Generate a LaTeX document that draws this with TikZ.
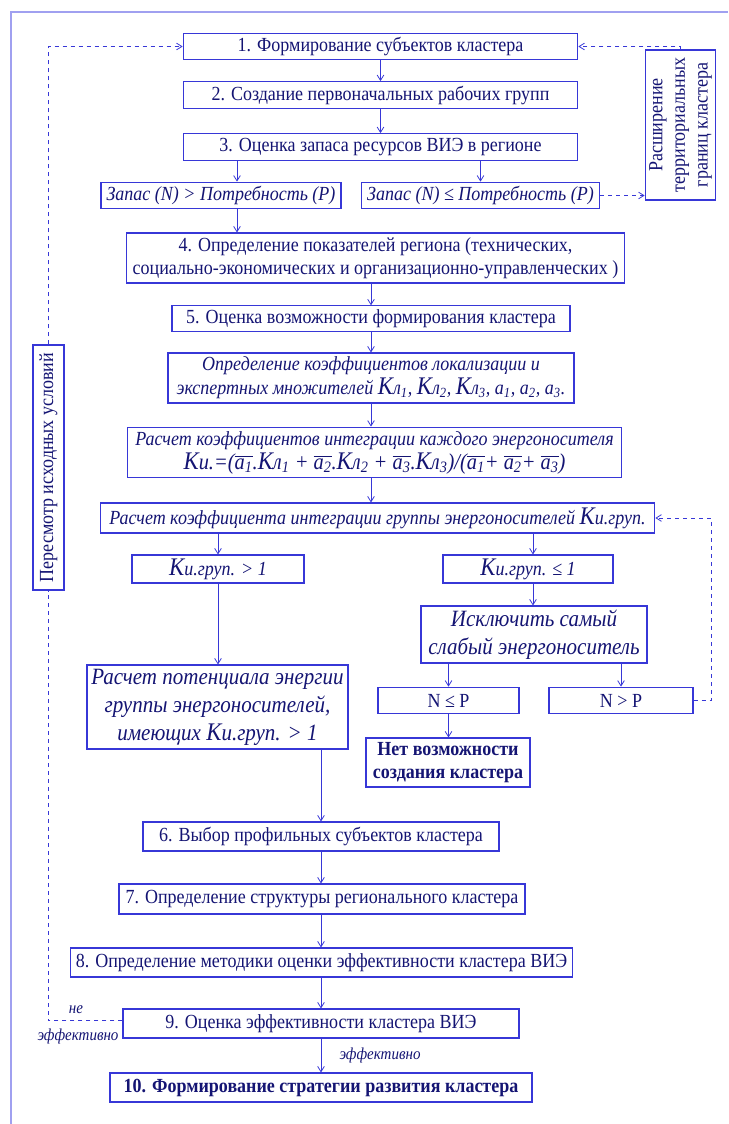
\documentclass[tikz,border=0pt]{standalone}
\usepackage{fontspec}
\setmainfont{Liberation Serif}[FakeStretch=0.9]
\usetikzlibrary{arrows.meta}
\definecolor{ramka}{RGB}{55,55,215}
\definecolor{tekst}{RGB}{20,20,115}
\definecolor{pole}{RGB}{160,160,240}
\tikzset{
  blok/.style = {draw=ramka, text=tekst, line width=0.8pt, inner sep=1pt, align=center,
    font=\fontsize{15}{17}\selectfont},
  kursiv/.style = {blok, font=\fontsize{15}{18}\selectfont\itshape},
  strelka/.style = {draw=ramka, line width=0.6pt, -{Straight Barb[length=4pt,width=5pt]}},
  petlya/.style = {strelka, dash pattern=on 3pt off 3pt},
  metka/.style = {text=tekst, inner sep=0pt, font=\fontsize{12.5}{13}\selectfont\itshape}
}
\newcommand{\bigK}{{\fontsize{19}{19}\selectfont K}}
\newcommand{\nz}[1]{\textsubscript{#1}}
\newcommand{\ab}[1]{$\overline{\hbox{a\nz{#1}}}$}

\begin{document}
\begin{tikzpicture}[x=0.75pt, y=-0.75pt]

  \useasboundingbox (0,0) rectangle (728,1124);
  \draw[pole, line width=1.2pt] (11,1124) -- (11,12) -- (728,12);

  % upper part
  \node[blok, minimum width=296pt, minimum height=20pt] (b1) at (380.5,46.5) {1. Формирование субъектов кластера};
  \node[blok, minimum width=296pt, minimum height=20pt] (b2) at (380.5,95) {2. Создание первоначальных рабочих групп};
  \node[blok, minimum width=296pt, minimum height=20pt] (b3) at (380.5,147) {3. Оценка запаса ресурсов ВИЭ в регионе};
  \node[kursiv, minimum width=180pt, minimum height=20pt] (z1) at (221,195.5) {Запас (N) > Потребность (P)};
  \node[kursiv, minimum width=179pt, minimum height=20pt] (z2) at (480.5,195.5) {Запас (N) ≤ Потребность (P)};
  \node[blok, rotate=90, minimum width=112.5pt, minimum height=53pt] (ras) at (680.5,125) {Расширение\\территориальных\\границ кластера};
  \node[blok, minimum width=374pt, minimum height=37.5pt] (b4) at (375.5,258) {4. Определение показателей региона (технических,\\социально-экономических и организационно-управленческих )};
  \node[blok, minimum width=298.5pt, minimum height=19pt] (b5) at (371,318.5) {5. Оценка возможности формирования кластера};
  \node[kursiv, minimum width=304.5pt, minimum height=37.5pt] (lok) at (371,378) {Определение коэффициентов локализации и\\экспертных множителей \bigK л\nz1, \bigK л\nz2, \bigK л\nz3, a\nz1, a\nz2, a\nz3.};
  \node[kursiv, minimum width=370pt, minimum height=38pt] (kint) at (374.5,452.5) {Расчет коэффициентов интеграции каждого энергоносителя\\{\fontsize{17}{20}\selectfont \bigK и.=(\ab1.\bigK л\nz1 + \ab2.\bigK л\nz2 + \ab3.\bigK л\nz3)/(\ab1+ \ab2+ \ab3)}};
  \node[kursiv, minimum width=416pt, minimum height=22.5pt] (kgr) at (377.5,518) {Расчет коэффициента интеграции группы энергоносителей \bigK и.груп.};

  % branches
  \node[kursiv, minimum width=129pt, minimum height=21pt] (kb) at (218,569) {\bigK и.груп. > 1};
  \node[kursiv, minimum width=127.5pt, minimum height=21pt] (km) at (528,569) {\bigK и.груп. ≤ 1};
  \node[kursiv, font=\fontsize{17.5}{21}\selectfont\itshape, minimum width=169.5pt, minimum height=42.75pt] (iskl) at (534,634.5) {Исключить самый\\слабый энергоноситель};
  \node[kursiv, font=\fontsize{17.5}{21}\selectfont\itshape, minimum width=195.75pt, minimum height=63pt] (pot) at (217.5,707) {Расчет потенциала энергии\\группы энергоносителей,\\имеющих \bigK и.груп. > 1};
  \node[blok, minimum width=105.75pt, minimum height=20pt] (nle) at (448.5,700.5) {N ≤ P};
  \node[blok, minimum width=108pt, minimum height=20pt] (ngt) at (621,700.5) {N > P};
  \node[blok, font=\fontsize{15}{17}\selectfont\bfseries, minimum width=123pt, minimum height=36.75pt] (net) at (448,762.5) {Нет возможности\\создания кластера};

  % lower part
  \node[blok, minimum width=267pt, minimum height=21.75pt] (b6) at (321,836.5) {6. Выбор профильных субъектов кластера};
  \node[blok, minimum width=304.5pt, minimum height=22.5pt] (b7) at (322,899) {7. Определение структуры регионального кластера};
  \node[blok, minimum width=377pt, minimum height=21.75pt] (b8) at (321.5,962.5) {8. Определение методики оценки эффективности кластера ВИЭ};
  \node[blok, minimum width=297pt, minimum height=21.75pt] (b9) at (321,1023.5) {9. Оценка эффективности кластера ВИЭ};
  \node[blok, font=\fontsize{15}{17}\selectfont\bfseries, minimum width=316.5pt, minimum height=21.75pt] (b10) at (321,1087.5) {10. Формирование стратегии развития кластера};
  \node[blok, rotate=90, minimum width=183.75pt, minimum height=23.25pt] (per) at (48.5,467.5) {Пересмотр исходных условий};

  \node[metka] (ne) at (76,1010) {не};
  \node[metka] (ef1) at (78,1036) {эффективно};
  \node[metka] (ef2) at (380,1055) {эффективно};

  % arrows
  \coordinate (s1) at (237,0);
  \coordinate (s2) at (533,0);
  \coordinate (ugol) at (711,0);
  \draw[strelka] (b1) -- (b2);
  \draw[strelka] (b2) -- (b3);
  \draw[strelka] (b3.south -| s1) -- (z1.north -| s1);
  \draw[strelka] (b3.south -| z2.north) -- (z2.north);
  \draw[strelka] (z1.south -| s1) -- (b4.north -| s1);
  \draw[strelka] (b4.south -| b5.north) -- (b5.north);
  \draw[strelka] (b5) -- (lok);
  \draw[strelka] (lok.south) -- (lok.south |- kint.north);
  \draw[strelka] (kint.south -| lok.south) -- (kgr.north -| lok.south);
  \draw[strelka] (kgr.south -| kb.north) -- (kb.north);
  \draw[strelka] (kgr.south -| s2) -- (km.north -| s2);
  \draw[strelka] (km.south -| s2) -- (iskl.north -| s2);
  \draw[strelka] (kb.south) -- (kb.south |- pot.north);
  \draw[strelka] (iskl.south -| nle.north) -- (nle.north);
  \draw[strelka] (iskl.south -| ngt.north) -- (ngt.north);
  \draw[strelka] (nle.south) -- (nle.south |- net.north);
  \draw[strelka] (pot.south -| b6.north) -- (b6.north);
  \draw[strelka] (b6.south) -- (b6.south |- b7.north);
  \draw[strelka] (b7.south -| b6.south) -- (b8.north -| b6.south);
  \draw[strelka] (b8.south -| b6.south) -- (b9.north -| b6.south);
  \draw[strelka] (b9.south -| b6.south) -- (b10.north -| b6.south);

  % dashed loops
  \draw[petlya] (ngt.east) -- (ngt.east -| ugol) |- (kgr.east);
  \draw[petlya] (z2.east) -- (ras.north |- z2.east);
  \draw[petlya] (ras.east) |- (b1.east);
  \draw[petlya, -] ([yshift=2pt]b9.west) -| (per.west);
  \draw[petlya] (per.east) |- (b1.west);

\end{tikzpicture}
\end{document}
